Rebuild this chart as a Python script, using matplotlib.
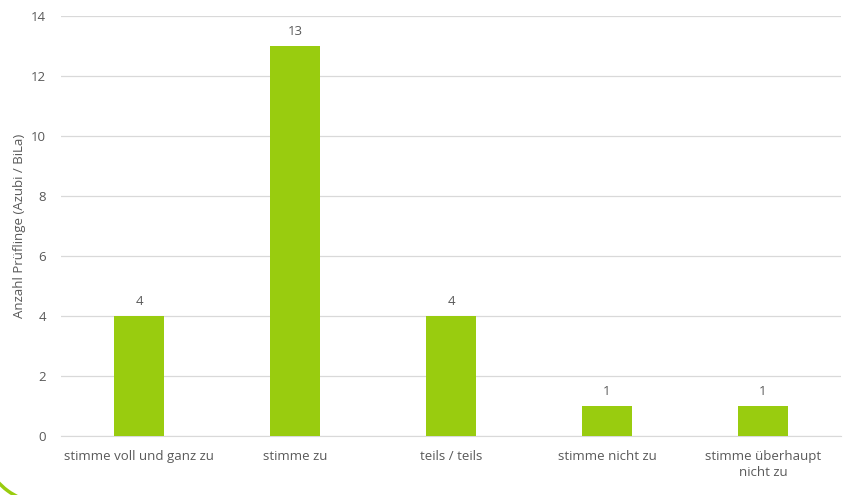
import matplotlib.pyplot as plt
from matplotlib.patches import Arc

plt.rcParams['font.family'] = ['Open Sans', 'DejaVu Sans']

categories = ['stimme voll und ganz zu', 'stimme zu', 'teils / teils',
              'stimme nicht zu', 'stimme überhaupt\nnicht zu']
counts = [4, 13, 4, 1, 1]
yticks = [0, 2, 4, 6, 8, 10, 12, 14]

text_col = '#595959'
bar_col = '#99CC0F'
fs = 9.5

fig = plt.figure(figsize=(8.46, 4.95), dpi=100)
ax = fig.add_axes([0.0721, 0.1192, 0.922, 0.8485])

x = range(len(categories))
bars = ax.bar(x, counts, width=0.32, color=bar_col, zorder=3)
for b, v in zip(bars, counts):
    ax.text(b.get_x() + b.get_width() / 2, v + 0.25, str(v), ha='center',
            va='bottom', fontsize=fs, color=text_col)

ax.set_xlim(-0.5, len(categories) - 0.5)
ax.set_ylim(0, 14)
ax.set_yticks(yticks)
ax.set_xticks(list(x))
ax.set_xticklabels(categories, fontsize=fs, color=text_col, linespacing=1.3)
ax.tick_params(axis='y', labelsize=fs, labelcolor=text_col, length=0, pad=11)
ax.tick_params(axis='x', length=0, pad=10)
ax.grid(axis='y', color='#d9d9d9', linewidth=0.9, zorder=0)
for s in ['top', 'right', 'left']:
    ax.spines[s].set_visible(False)
ax.spines['bottom'].set_color('#d9d9d9')
ax.set_ylabel('Anzahl Prüflinge (Azubi / BiLa)', fontsize=fs, color=text_col,
              labelpad=3)

# decorative arc in the lower left corner
arc = Arc((45 / 846, 55 / 495), 126 / 846, 126 / 495, theta1=180, theta2=280,
          transform=fig.transFigure, color=bar_col, linewidth=2.5)
fig.patches.append(arc)

fig.savefig('out.png', dpi=100)
